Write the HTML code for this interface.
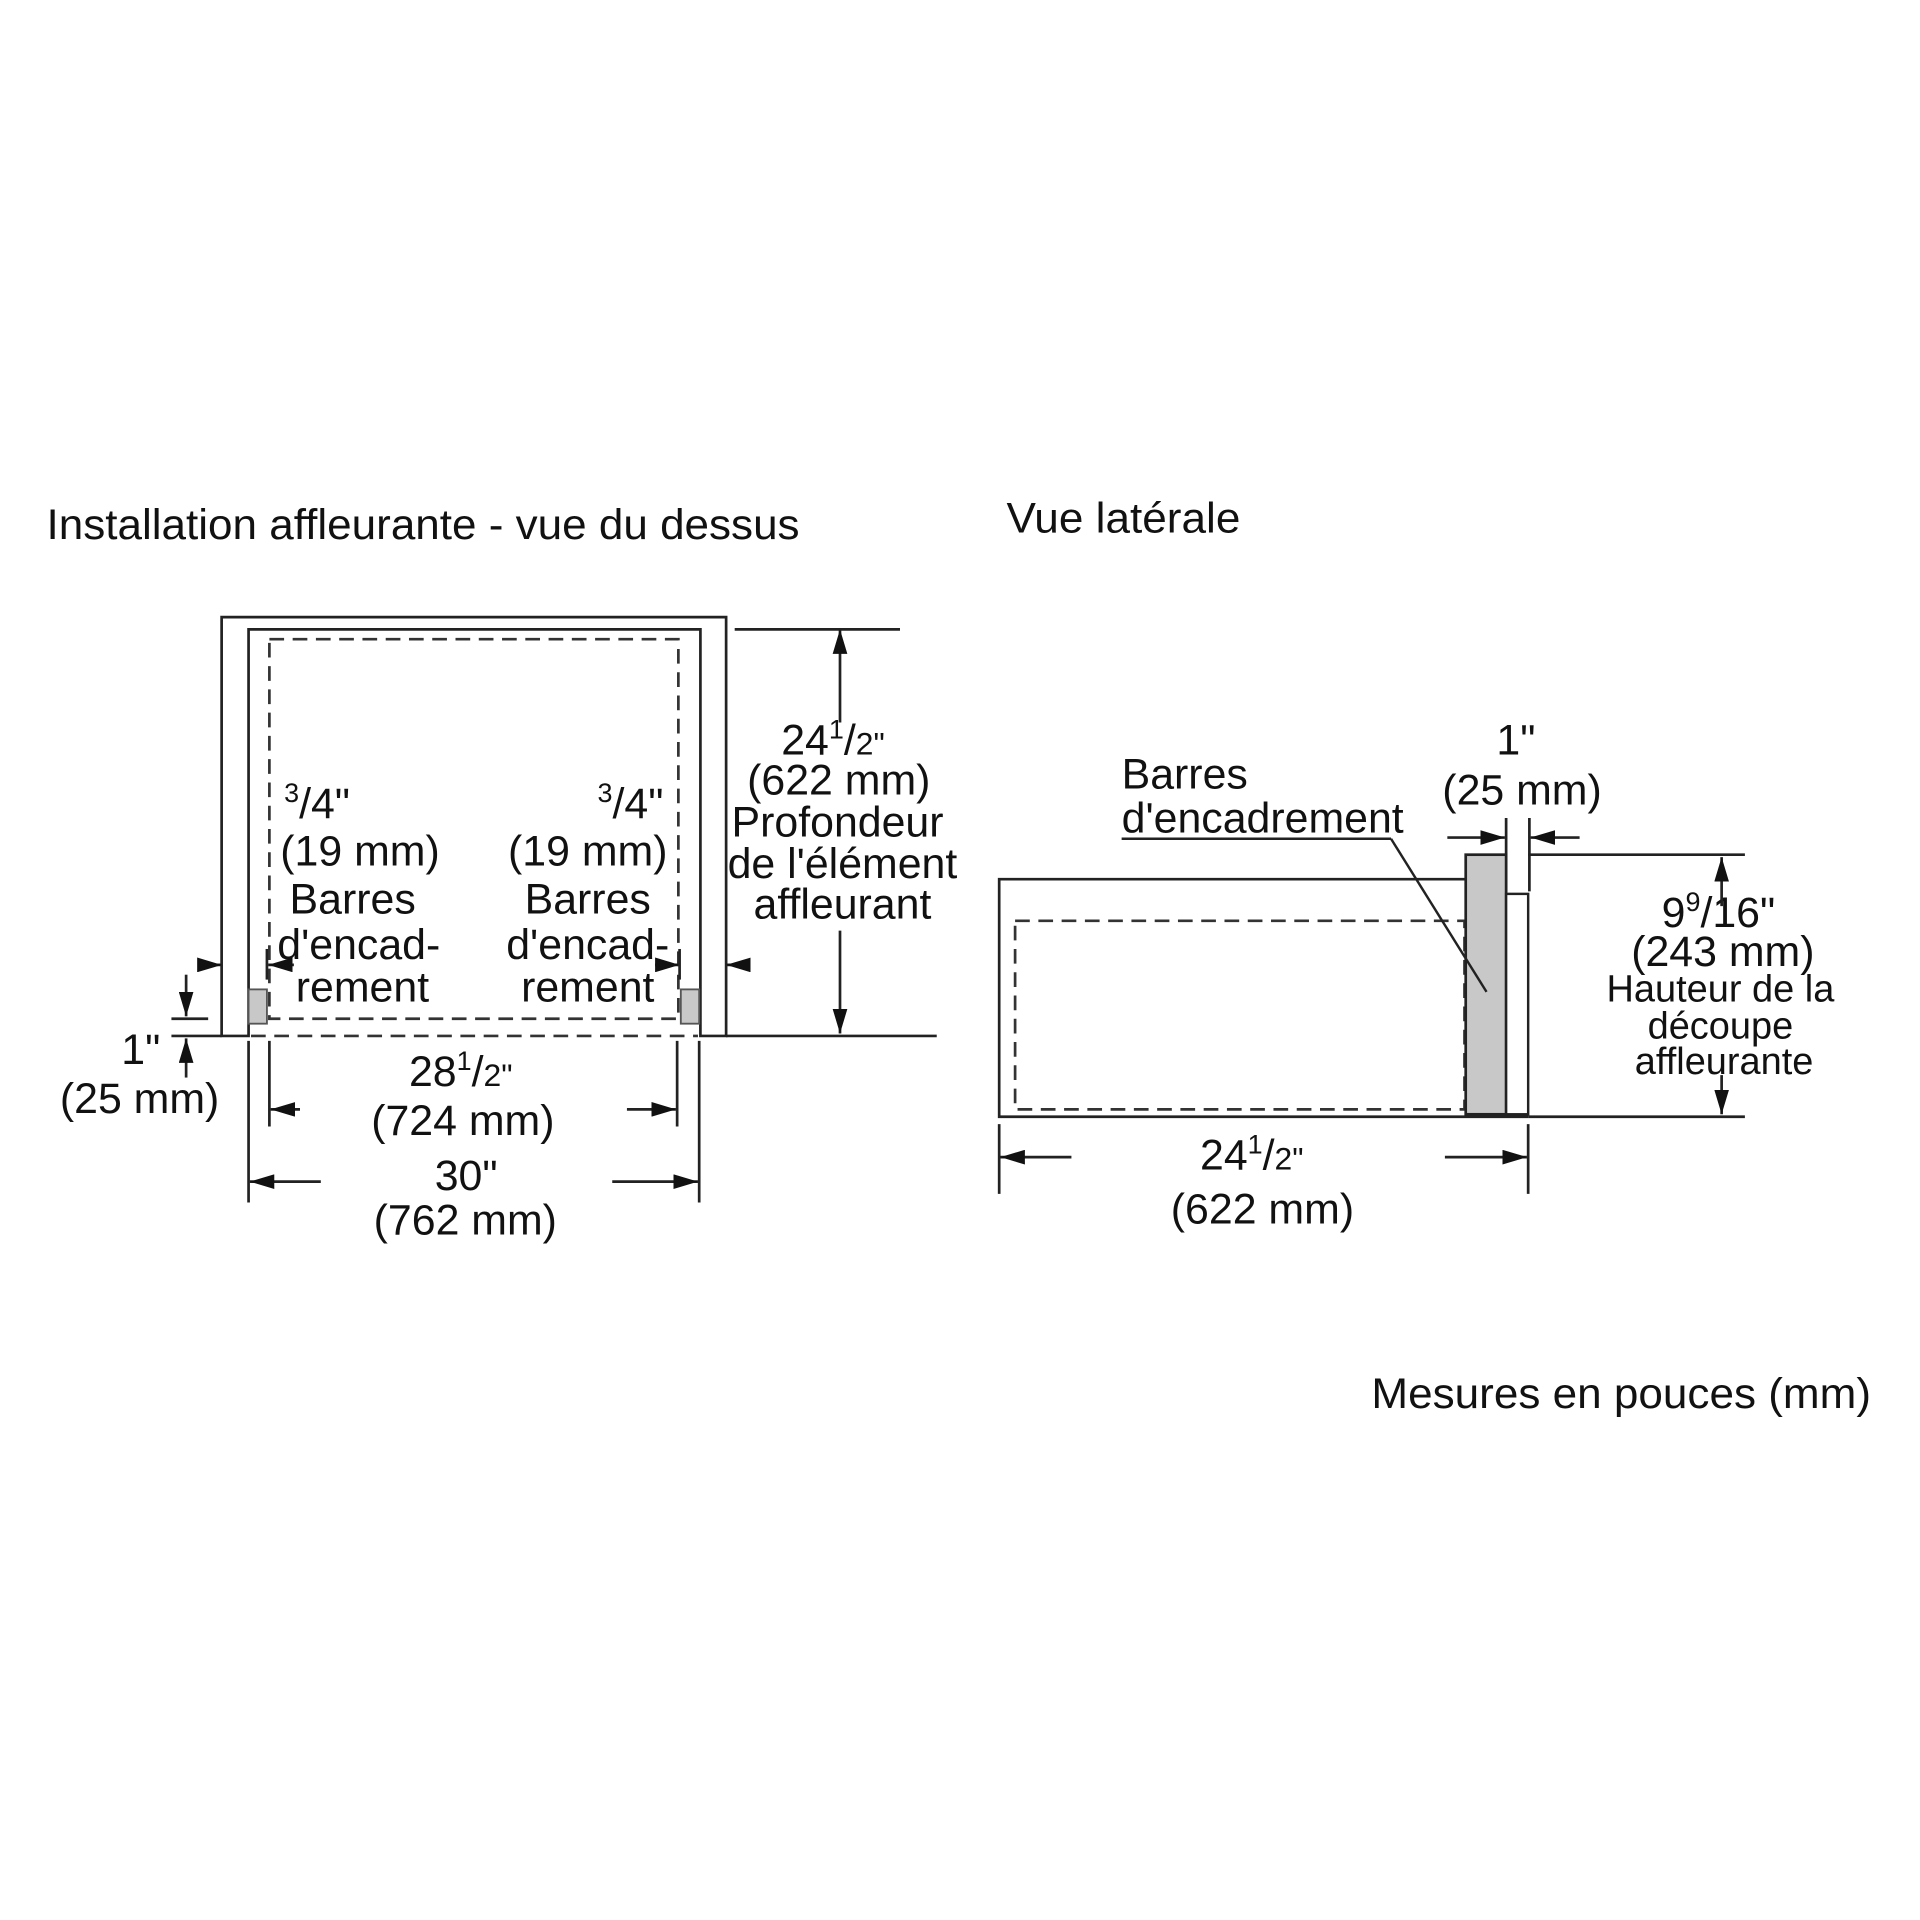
<!DOCTYPE html>
<html><head><meta charset="utf-8"><style>
html,body{margin:0;padding:0;background:#fff;}
svg{display:block;}
text{font-family:"Liberation Sans",Arial,sans-serif;fill:#111;}
</style></head><body>
<svg width="1920" height="1920" viewBox="0 0 1568 1568" xmlns="http://www.w3.org/2000/svg">
<defs>
<marker id="a" viewBox="0 0 20 12" refX="20" refY="6" markerWidth="20" markerHeight="12" markerUnits="userSpaceOnUse" orient="auto"><path d="M0,0 L20,6 L0,12 Z" fill="#111"/></marker>
</defs>
<rect width="1568" height="1568" fill="#fff"/>
<g font-size="35">
<text x="38" y="440" textLength="615" lengthAdjust="spacingAndGlyphs">Installation affleurante - vue du dessus</text>
<text x="822" y="435" textLength="191" lengthAdjust="spacingAndGlyphs">Vue latérale</text>
<text x="1120" y="1150" textLength="408" lengthAdjust="spacingAndGlyphs">Mesures en pouces (mm)</text>
</g>
<!-- TOP VIEW -->
<g stroke="#222" stroke-width="2.2" fill="none">
<path d="M181,846 V504 H593 V846 H572 V514 H203 V846 Z"/>
<rect x="220" y="522" width="334" height="310" stroke-dasharray="12,7" stroke="#333"/>
<line x1="205" y1="846" x2="570" y2="846" stroke-dasharray="12,7" stroke="#333"/>
<line x1="593" y1="846" x2="765" y2="846"/>
<line x1="140" y1="846" x2="181" y2="846"/>
<line x1="140" y1="832" x2="170" y2="832"/>
<line x1="600" y1="514" x2="735" y2="514"/>
<line x1="686" y1="590" x2="686" y2="514" marker-end="url(#a)"/>
<line x1="686" y1="760" x2="686" y2="844" marker-end="url(#a)"/>
<line x1="152" y1="796" x2="152" y2="830" marker-end="url(#a)"/>
<line x1="152" y1="880" x2="152" y2="848" marker-end="url(#a)"/>
<line x1="163" y1="788" x2="181" y2="788" marker-end="url(#a)"/>
<line x1="240" y1="788" x2="219" y2="788" marker-end="url(#a)"/>
<line x1="218" y1="775" x2="218" y2="800"/>
<line x1="535" y1="788" x2="555" y2="788" marker-end="url(#a)"/>
<line x1="555" y1="775" x2="555" y2="800"/>
<line x1="612" y1="788" x2="593" y2="788" marker-end="url(#a)"/>
<line x1="220" y1="850" x2="220" y2="920"/>
<line x1="553" y1="850" x2="553" y2="920"/>
<line x1="245" y1="906" x2="221" y2="906" marker-end="url(#a)"/>
<line x1="512" y1="906" x2="552" y2="906" marker-end="url(#a)"/>
<line x1="203" y1="850" x2="203" y2="982"/>
<line x1="571" y1="850" x2="571" y2="982"/>
<line x1="262" y1="965" x2="204" y2="965" marker-end="url(#a)"/>
<line x1="500" y1="965" x2="570" y2="965" marker-end="url(#a)"/>
</g>
<rect x="203" y="808" width="15" height="28" fill="#c8c8c8" stroke="#555" stroke-width="1.5"/>
<rect x="556" y="808" width="15" height="28" fill="#c8c8c8" stroke="#555" stroke-width="1.5"/>
<g font-size="35" text-anchor="middle">
<text x="294" y="707">(19 mm)</text><text x="288" y="746">Barres</text><text x="293" y="783">d'encad-</text><text x="296" y="818">rement</text>
<text x="480" y="707">(19 mm)</text><text x="480" y="746">Barres</text><text x="480" y="783">d'encad-</text><text x="480" y="818">rement</text>
<text x="685" y="649">(622 mm)</text>
<text x="684" y="683">Profondeur</text>
<text x="688" y="717">de l'élément</text>
<text x="688" y="750">affleurant</text>
<text x="115" y="869">1"</text>
<text x="114" y="909">(25 mm)</text>
<text x="378" y="927">(724 mm)</text>
<text x="380" y="1008">(762 mm)</text>
<text x="1243" y="657">(25 mm)</text>
<text x="1238" y="616">1"</text>
<text x="1031" y="999">(622 mm)</text>
<text x="1407" y="789">(243 mm)</text>
</g>
<g font-size="35">
<text x="232" y="668"><tspan font-size="22" dy="-13">3</tspan><tspan dy="13">/4"</tspan></text>
<text x="488" y="668"><tspan font-size="22" dy="-13">3</tspan><tspan dy="13">/4"</tspan></text>
<text x="638" y="616">24<tspan font-size="22" dy="-13">1</tspan><tspan dy="13">/</tspan><tspan font-size="26">2"</tspan></text>
<text x="334" y="887">28<tspan font-size="22" dy="-13">1</tspan><tspan dy="13">/</tspan><tspan font-size="26">2"</tspan></text>
<text x="355" y="972">30"</text>
<text x="980" y="955">24<tspan font-size="22" dy="-13">1</tspan><tspan dy="13">/</tspan><tspan font-size="26">2"</tspan></text>
<text x="1357" y="757">9<tspan font-size="22" dy="-13">9</tspan><tspan dy="13">/16"</tspan></text>
<text x="916" y="644">Barres</text>
<text x="916" y="680">d'encadrement</text>
</g>
<!-- SIDE VIEW -->
<g stroke="#222" stroke-width="2.2" fill="none">
<path d="M1198,718 H816 V912 H1248"/>
<rect x="829" y="752" width="367" height="154" stroke-dasharray="12,7" stroke="#333"/>
<line x1="1248" y1="698" x2="1425" y2="698"/>
<line x1="1248" y1="912" x2="1425" y2="912"/>
<line x1="1406" y1="740" x2="1406" y2="700" marker-end="url(#a)"/>
<line x1="1406" y1="878" x2="1406" y2="910" marker-end="url(#a)"/>
<line x1="1230" y1="668" x2="1230" y2="728"/>
<line x1="1249" y1="668" x2="1249" y2="728"/>
<line x1="1182" y1="684" x2="1229" y2="684" marker-end="url(#a)"/>
<line x1="1290" y1="684" x2="1250" y2="684" marker-end="url(#a)"/>
<line x1="816" y1="918" x2="816" y2="975"/>
<line x1="1248" y1="918" x2="1248" y2="975"/>
<line x1="875" y1="945" x2="817" y2="945" marker-end="url(#a)"/>
<line x1="1180" y1="945" x2="1247" y2="945" marker-end="url(#a)"/>
</g>
<rect x="1197" y="698" width="33" height="212" fill="#c8c8c8" stroke="#222" stroke-width="2.2"/>
<rect x="1230" y="730" width="18" height="180" fill="#fff" stroke="#222" stroke-width="2"/>
<g stroke="#222" stroke-width="2" fill="none">
<line x1="916" y1="685" x2="1136" y2="685"/>
<line x1="1136" y1="685" x2="1214" y2="810"/>
</g>
<g font-size="31" text-anchor="middle">
<text x="1405" y="818">Hauteur de la</text>
<text x="1405" y="848">découpe</text>
<text x="1408" y="877">affleurante</text>
</g>
</svg>
</body></html>
